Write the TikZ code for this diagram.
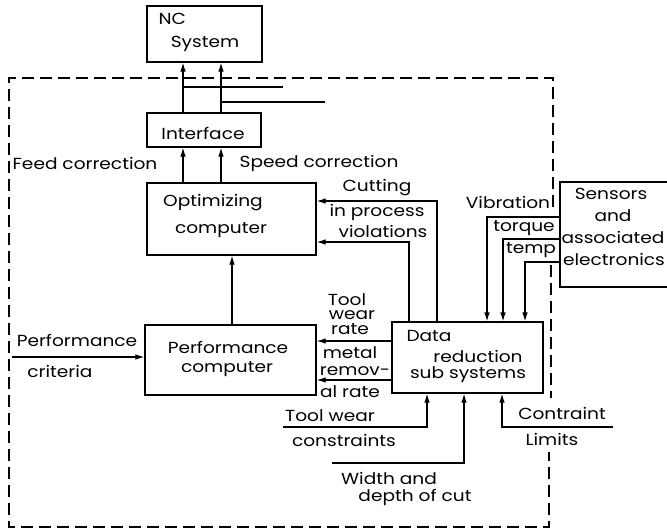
\documentclass[tikz,border=0pt]{standalone}
\usepackage{fontspec}
\setmainfont{Poppins}[FakeStretch=1.16]
\usetikzlibrary{positioning,arrows.meta,fit}

\tikzset{
  blk/.style={draw, inner sep=0pt},
  arr/.style={-{Latex[length=4.5pt,width=2.8pt]}},
  txt/.style={inner sep=0pt, font=\fontsize{8}{9}\selectfont},
  frame/.style={dash pattern=on 6pt off 3pt},
}

\begin{document}
\begin{tikzpicture}[x=0.5pt,y=-0.5pt,line width=0.6pt]
\useasboundingbox (0,0) rectangle (667,530);

% blocks
\node[blk, fit={(147,6) (262,62)}] (nc) {};
\node[blk, fit={(147,113) (261,147)}] (ifc) {};
\node[blk, fit={(147,183) (316,255)}] (opt) {};
\node[blk, fit={(145,325) (316,395)}] (perf) {};
\node[blk, fit={(392,322) (543,393)}] (dred) {};
\node[blk, fit={(560,182) (680,287)}] (sens) {};

\node[txt, anchor=west] (ncA) at (158,19) {NC};
\node[txt] (ncB) at (205,44) {System};
\node[txt] (ifcA) at (203,133) {Interface};
\node[txt] (optA) at (213,203) {Optimizing};
\node[txt] (optB) at (221,230) {computer};
\node[txt] (perfA) at (228,347) {Performance};
\node[txt] (perfB) at (227,369) {computer};
\node[txt] (dredA) at (429,336) {Data};
\node[txt] (dredB) at (478,356) {reduction};
\node[txt] (dredC) at (468,375) {sub systems};
\node[txt] (sensA) at (611,194) {Sensors};
\node[txt] (sensB) at (613,216) {and};
\node[txt] (sensC) at (613,237) {associated};
\node[txt] (sensD) at (614,259) {electronics};

% x positions of the vertical runs
\coordinate (fx) at (183,0);
\coordinate (sx) at (221,0);
\coordinate (px) at (232,0);

% to the NC system
\draw[arr] (ifc.north -| fx) -- (nc.south -| fx);
\draw[arr] (ifc.north -| sx) -- (nc.south -| sx);
\coordinate (stubA) at (283,87);
\coordinate (stubB) at (325,102);
\draw (stubA -| fx) -- (stubA);
\draw (stubB -| sx) -- (stubB);

% corrections
\draw[arr] (opt.north -| fx) -- (ifc.south -| fx);
\draw[arr] (opt.north -| sx) -- (ifc.south -| sx);
\node[txt] (feed) at (85,163) {Feed correction};
\node[txt] (speed) at (319,163) {Speed correction};

\draw[arr] (perf.north -| px) -- (opt.south -| px);

% performance criteria
\coordinate (crit) at (12,357);
\draw[arr] (crit) -- (crit -| perf.west);
\node[txt] (critA) at (77,340) {Performance};
\node[txt] (critB) at (60,371) {criteria};

% violations
\coordinate (cut) at (437,201);
\coordinate (viol) at (409,242);
\draw[arr] (dred.north -| cut) -- (cut) -- (cut -| opt.east);
\draw[arr] (dred.north -| viol) -- (viol) -- (viol -| opt.east);
\node[txt] (cutA) at (377,188) {Cutting};
\node[txt] (cutB) at (377,212) {in process};
\node[txt] (cutC) at (383,231) {violations};

% rates
\coordinate (twr) at (0,341);
\coordinate (mrr) at (0,380);
\draw[arr] (dred.west |- twr) -- (perf.east |- twr);
\draw[arr] (dred.west |- mrr) -- (perf.east |- mrr);
\node[txt] (twrA) at (347,300) {Tool};
\node[txt] (twrB) at (352,315) {wear};
\node[txt] (twrC) at (350,329) {rate};
\node[txt] (mrrA) at (350,353) {metal};
\node[txt] (mrrB) at (355,371) {remov-};
\node[txt] (mrrC) at (350,392) {al rate};

% constraints
\coordinate (twc) at (283,427);
\coordinate (twcx) at (427,427);
\draw[arr] (twc) -- (twcx) -- (twcx |- dred.south);
\node[txt] (twcA) at (330,416) {Tool wear};
\node[txt] (twcB) at (344,440) {constraints};

\coordinate (wdc) at (332,463);
\coordinate (wdcx) at (464,463);
\draw[arr] (wdc) -- (wdcx) -- (wdcx |- dred.south);
\node[txt] (wdcA) at (389,478) {Width and};
\node[txt] (wdcB) at (415,497) {depth of cut};

\coordinate (cl) at (613,427);
\coordinate (clx) at (502,427);
\draw[arr] (cl) -- (clx) -- (clx |- dred.south);
\node[txt] (clA) at (562,413) {Contraint};
\node[txt] (clB) at (552,439) {Limits};

% sensor signals
\coordinate (vib) at (487,217);
\coordinate (trq) at (503,239);
\coordinate (tmp) at (525,262);
\draw[arr] (sens.west |- vib) -- (vib) -- (vib |- dred.north);
\draw[arr] (sens.west |- trq) -- (trq) -- (trq |- dred.north);
\draw[arr] (sens.west |- tmp) -- (tmp) -- (tmp |- dred.north);
\node[txt] (vibA) at (508,202) {Vibration};
\node[txt] (trqA) at (524,228) {torque};
\node[txt] (tmpA) at (531,250) {temp};

% system boundary
\draw[frame] (553,207) -- (553,78) -- (9,78) -- (9,527) -- (549,527) -- (549,452);
\draw[frame] (551,265) -- (551,398);
\end{tikzpicture}
\end{document}
